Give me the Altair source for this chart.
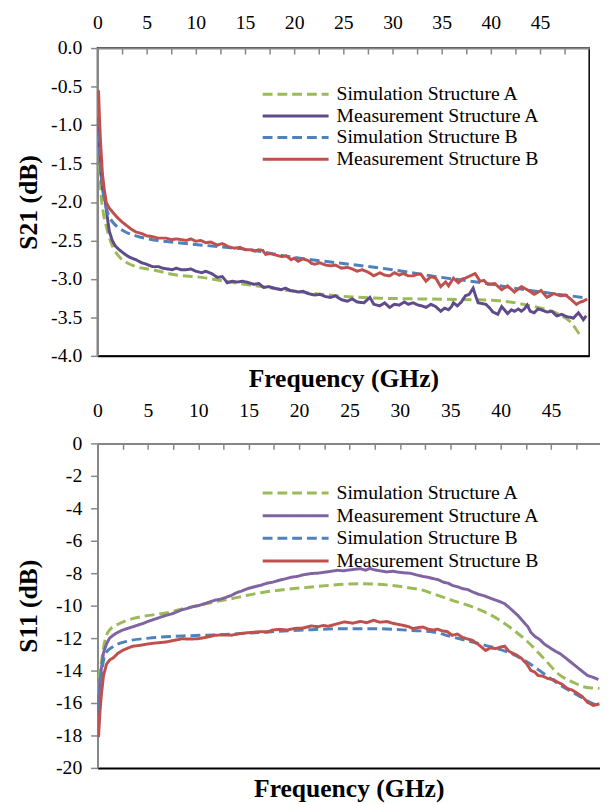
import altair as alt
import pandas as pd

FONT = "Liberation Serif"
GRAY = "#868686"

SERIES = ["Simulation Structure A", "Measurement Structure A",
          "Simulation Structure B", "Measurement Structure B"]
COLORS_TOP = ["#9BBB59", "#5F4B8B", "#4F81BD", "#C0504D"]
COLORS_BOT = ["#9BBB59", "#8064A2", "#4F81BD", "#C0504D"]
DASHES = [[10, 5], [1, 0], [10, 5], [1, 0]]

X_TICKS = [0, 2.5, 5, 7.5, 10, 12.5, 15, 17.5, 20, 22.5, 25, 27.5, 30, 32.5,
           35, 37.5, 40, 42.5, 45, 47.5]
S21_TICKS = [-4.0, -3.5, -3.0, -2.5, -2.0, -1.5, -1.0, -0.5, 0.0]
S11_TICKS = [-20, -18, -16, -14, -12, -10, -8, -6, -4, -2, 0]

# ---------------- S21 (top) ----------------
S21_SIM_A = [(0.05, -0.95), (0.2, -1.5), (0.4, -1.95), (0.6, -2.15), (0.9, -2.32),
             (1.3, -2.5), (1.7, -2.62), (2.2, -2.71), (3.0, -2.79), (3.9, -2.84),
             (5.6, -2.88), (7.6, -2.94), (10.6, -2.98), (13.9, -3.05), (16.6, -3.1),
             (18.7, -3.14), (22.1, -3.19), (25.4, -3.23), (28.7, -3.25), (33.0, -3.26),
             (38.0, -3.27), (40.5, -3.28), (43.7, -3.34), (45.7, -3.4), (47.1, -3.47),
             (48.1, -3.56), (48.7, -3.66), (49.1, -3.74)]

S21_MEAS_A = [(0.05, -0.9), (0.2, -1.3), (0.4, -1.7), (0.6, -1.9), (0.8, -2.0), (1.0, -2.2),
              (1.2, -2.38), (1.5, -2.5), (1.8, -2.57), (2.2, -2.62), (2.8, -2.68), (3.3, -2.72),
              (3.9, -2.75), (4.5, -2.79), (5.0, -2.81), (5.6, -2.84), (6.2, -2.84), (6.6, -2.86),
              (7.1, -2.87), (7.6, -2.88), (8.0, -2.86), (8.5, -2.88), (9.0, -2.88), (9.5, -2.87),
              (10.0, -2.9), (10.6, -2.92), (11.0, -2.9), (11.6, -2.93), (12.2, -2.98), (12.7, -2.97),
              (13.2, -3.05), (13.7, -3.03), (14.2, -3.04), (14.8, -3.03), (15.4, -3.05), (15.9, -3.07),
              (16.4, -3.06), (16.9, -3.11), (17.4, -3.1), (18.0, -3.12), (18.7, -3.14), (19.1, -3.12),
              (19.6, -3.15), (20.1, -3.16), (20.4, -3.17), (20.9, -3.16), (21.4, -3.19), (22.1, -3.21),
              (22.6, -3.2), (23.2, -3.23), (23.7, -3.24), (24.2, -3.22), (24.8, -3.27), (25.4, -3.29),
              (25.9, -3.26), (26.4, -3.3), (27.1, -3.31), (27.7, -3.24), (28.1, -3.33), (28.7, -3.35),
              (29.2, -3.31), (29.7, -3.37), (30.2, -3.33), (30.7, -3.34), (31.2, -3.3), (31.6, -3.33),
              (32.1, -3.31), (32.6, -3.34), (33.0, -3.35), (33.4, -3.37), (33.9, -3.33), (34.4, -3.36),
              (34.9, -3.42), (35.3, -3.38), (35.7, -3.4), (36.0, -3.36), (36.2, -3.31), (36.6, -3.35),
              (37.0, -3.3), (37.4, -3.22), (37.8, -3.2), (38.2, -3.12), (38.4, -3.2), (38.7, -3.31),
              (39.1, -3.32), (39.5, -3.33), (39.9, -3.38), (40.2, -3.43), (40.7, -3.46), (41.1, -3.36),
              (41.5, -3.42), (41.7, -3.45), (42.1, -3.4), (42.4, -3.42), (42.8, -3.39), (43.1, -3.42),
              (43.4, -3.39), (43.7, -3.34), (44.0, -3.42), (44.4, -3.44), (44.8, -3.39), (45.1, -3.4),
              (45.7, -3.43), (46.2, -3.42), (46.7, -3.48), (47.2, -3.46), (47.7, -3.49), (48.1, -3.5),
              (48.4, -3.51), (48.9, -3.44), (49.2, -3.49), (49.4, -3.53), (49.7, -3.48)]

S21_SIM_B = [(0.05, -0.9), (0.2, -1.3), (0.4, -1.65), (0.6, -1.88), (0.9, -2.08), (1.2, -2.19),
             (1.6, -2.27), (2.2, -2.34), (3.0, -2.4), (3.9, -2.44), (5.6, -2.49), (7.5, -2.52),
             (9.0, -2.54), (12.2, -2.58), (15.4, -2.62), (20.0, -2.72), (25.0, -2.8), (30.0, -2.88),
             (35.0, -2.98), (39.1, -3.05), (42.4, -3.12), (45.7, -3.18), (48.1, -3.22), (49.8, -3.25)]

S21_MEAS_B = [(0.1, -0.55), (0.2, -0.9), (0.3, -1.2), (0.5, -1.63), (0.7, -1.85), (0.9, -2.01),
              (1.2, -2.08), (1.6, -2.14), (2.0, -2.2), (2.5, -2.26), (2.9, -2.3), (3.4, -2.35),
              (3.9, -2.39), (4.5, -2.41), (5.0, -2.44), (5.6, -2.45), (6.2, -2.47), (7.0, -2.47),
              (7.5, -2.49), (8.0, -2.48), (8.6, -2.49), (9.0, -2.5), (9.5, -2.48), (10.0, -2.51),
              (10.5, -2.5), (11.0, -2.53), (11.5, -2.52), (12.2, -2.56), (12.7, -2.54), (13.3, -2.58),
              (13.9, -2.6), (14.5, -2.59), (15.0, -2.62), (15.6, -2.62), (16.0, -2.64), (16.4, -2.62),
              (16.8, -2.63), (17.1, -2.68), (17.6, -2.67), (18.1, -2.69), (18.7, -2.71), (19.2, -2.7),
              (19.7, -2.75), (20.0, -2.73), (20.4, -2.77), (20.9, -2.74), (21.4, -2.76), (21.8, -2.8),
              (22.1, -2.81), (22.6, -2.79), (23.2, -2.82), (23.7, -2.83), (24.2, -2.82), (24.8, -2.86),
              (25.4, -2.85), (25.9, -2.87), (26.4, -2.9), (26.9, -2.88), (27.5, -2.91), (28.1, -2.96),
              (28.7, -2.92), (29.2, -2.95), (29.7, -2.96), (30.2, -2.92), (30.7, -2.95), (31.1, -2.93),
              (31.6, -2.96), (32.1, -2.96), (32.5, -2.94), (32.9, -2.94), (33.4, -3.03), (33.9, -2.97),
              (34.4, -2.99), (34.9, -3.1), (35.4, -3.04), (35.7, -3.09), (36.2, -2.99), (36.7, -3.05),
              (37.1, -3.0), (37.4, -2.99), (37.9, -2.96), (38.4, -2.93), (38.9, -3.03), (39.3, -3.02),
              (39.7, -3.07), (40.4, -3.06), (41.1, -3.14), (41.7, -3.09), (42.4, -3.17), (43.1, -3.1),
              (43.7, -3.14), (44.4, -3.2), (45.1, -3.15), (45.7, -3.24), (46.4, -3.19), (47.1, -3.22),
              (47.6, -3.21), (48.1, -3.26), (48.7, -3.33), (49.1, -3.3), (49.4, -3.29), (49.8, -3.26)]

# ---------------- S11 (bottom) ----------------
S11_SIM_A = [(0.02, -15.4), (0.2, -14.2), (0.4, -13.4), (0.75, -12.1), (1.2, -11.5), (2.2, -11.1),
             (3.5, -10.8), (5.1, -10.6), (6.8, -10.45), (8.4, -10.2), (10.0, -10.0), (11.6, -9.77),
             (13.3, -9.57), (14.9, -9.36), (16.2, -9.2), (18.0, -9.05), (21.2, -8.85), (24.5, -8.68),
             (26.1, -8.65), (28.7, -8.72), (31.0, -8.91), (32.3, -9.05), (33.3, -9.26), (35.2, -9.67),
             (37.2, -10.08), (39.1, -10.6), (41.1, -11.42), (42.7, -12.24), (44.3, -13.27),
             (45.9, -14.3), (47.3, -14.75), (48.2, -15.0), (49.2, -15.08), (49.8, -15.1)]

S11_MEAS_A = [(0.05, -16.8), (0.2, -15.0), (0.4, -13.8), (0.6, -12.9), (0.9, -12.35), (1.2, -12.0),
              (1.6, -11.8), (2.0, -11.65), (2.5, -11.5), (3.0, -11.4), (3.5, -11.3), (4.0, -11.2),
              (4.5, -11.1), (5.1, -10.95), (5.6, -10.85), (6.2, -10.72), (6.8, -10.6), (7.4, -10.5),
              (8.0, -10.35), (8.4, -10.25), (9.0, -10.15), (9.5, -10.05), (10.0, -10.0), (10.5, -9.9),
              (11.0, -9.8), (11.6, -9.67), (12.2, -9.6), (12.7, -9.5), (13.3, -9.36), (13.8, -9.2),
              (14.3, -9.1), (14.9, -8.95), (15.5, -8.85), (16.2, -8.74), (16.8, -8.62), (17.4, -8.55),
              (18.0, -8.44), (18.6, -8.35), (19.2, -8.25), (19.8, -8.2), (20.4, -8.1), (21.2, -8.02),
              (21.8, -8.0), (22.4, -7.95), (23.0, -7.9), (23.8, -7.82), (24.4, -7.85), (25.0, -7.8),
              (25.6, -7.75), (26.1, -7.72), (26.6, -7.82), (27.0, -7.7), (27.4, -7.78), (28.0, -7.85),
              (28.7, -7.92), (29.3, -7.88), (30.0, -7.95), (30.5, -7.98), (31.0, -8.0), (31.6, -8.1),
              (32.3, -8.2), (32.8, -8.25), (33.3, -8.33), (33.8, -8.4), (34.3, -8.55), (34.8, -8.62),
              (35.2, -8.75), (35.8, -8.85), (36.2, -8.95), (36.7, -9.0), (37.2, -9.15), (37.8, -9.3),
              (38.4, -9.4), (39.1, -9.57), (39.7, -9.7), (40.4, -9.88), (41.0, -10.2), (41.7, -10.6),
              (42.2, -10.95), (42.7, -11.3), (43.0, -11.65), (43.4, -11.9), (43.9, -12.1), (44.3, -12.35),
              (44.9, -12.6), (45.4, -12.8), (45.9, -12.96), (46.5, -13.25), (47.0, -13.5), (47.6, -13.8),
              (48.1, -14.05), (48.6, -14.3), (49.1, -14.4), (49.7, -14.55)]

S11_SIM_B = [(0.05, -16.5), (0.4, -14.2), (0.75, -13.0), (1.6, -12.5), (2.9, -12.2), (5.1, -12.0),
             (8.4, -11.87), (11.6, -11.8), (16.2, -11.65), (18.0, -11.58), (21.2, -11.48),
             (24.5, -11.42), (27.7, -11.42), (31.0, -11.52), (33.3, -11.62), (35.2, -11.93),
             (37.2, -12.24), (39.1, -12.55), (41.1, -12.96), (42.7, -13.5), (44.3, -14.2),
             (45.9, -14.9), (47.6, -15.5), (49.2, -16.05), (49.8, -16.2)]

S11_MEAS_B = [(0.1, -18.1), (0.25, -16.5), (0.4, -15.4), (0.6, -14.3), (0.9, -13.6), (1.2, -13.35),
              (1.6, -13.2), (2.0, -12.95), (2.5, -12.75), (3.0, -12.62), (3.5, -12.5), (4.2, -12.45),
              (5.1, -12.35), (5.8, -12.3), (6.8, -12.24), (7.5, -12.15), (8.4, -12.04), (9.0, -12.06),
              (10.0, -12.04), (10.8, -11.95), (11.6, -11.83), (12.4, -11.8), (13.3, -11.82), (14.1, -11.72),
              (14.9, -11.67), (15.6, -11.63), (16.2, -11.6), (16.8, -11.62), (17.4, -11.5), (18.0, -11.46),
              (18.8, -11.5), (19.6, -11.4), (20.4, -11.38), (21.2, -11.25), (21.9, -11.3), (22.4, -11.22),
              (22.9, -11.27), (23.6, -11.15), (24.5, -11.0), (25.3, -11.08), (26.1, -10.97), (26.7, -11.05),
              (27.4, -10.9), (28.0, -11.02), (28.7, -10.98), (29.4, -11.1), (30.3, -11.21), (30.9, -11.3),
              (31.3, -11.42), (31.8, -11.35), (32.3, -11.32), (32.8, -11.45), (33.3, -11.5), (33.7, -11.45),
              (34.2, -11.55), (34.7, -11.6), (35.2, -11.83), (35.7, -11.75), (36.2, -11.95), (36.7, -12.05),
              (37.2, -12.14), (37.8, -12.4), (38.5, -12.76), (39.0, -12.6), (39.5, -12.65), (40.0, -12.55),
              (40.4, -12.5), (40.8, -12.8), (41.1, -12.9), (41.6, -13.05), (42.1, -13.27), (42.6, -13.6),
              (43.0, -14.0), (43.4, -14.1), (43.7, -14.3), (44.2, -14.35), (44.7, -14.5), (45.2, -14.55),
              (45.6, -14.7), (46.1, -14.85), (46.6, -15.1), (47.1, -15.2), (47.6, -15.4), (48.1, -15.6),
              (48.6, -15.95), (49.2, -16.15), (49.8, -16.05)]


def build(series_pairs, colors, y_ticks, y_fmt, y_title, width, height, xmax,
          legend_y, clip_h, top_pad, title_pad, view):
    x_scale = alt.Scale(domain=[0, xmax], nice=False, zero=False)
    y_scale = alt.Scale(domain=[min(y_ticks), 0], nice=False)
    color_scale = alt.Scale(domain=SERIES, range=colors)
    dash_scale = alt.Scale(domain=SERIES, range=DASHES)
    legend = alt.Legend(orient="none", legendX=166.5, legendY=legend_y, title=None,
                        symbolType="stroke", symbolSize=4489, symbolStrokeWidth=3,
                        labelFont=FONT, labelFontSize=20, labelColor="black",
                        labelLimit=400, labelOffset=6.5, padding=0, rowPadding=0,
                        clipHeight=clip_h, direction="vertical")
    top_axis = alt.Axis(orient="top", values=X_TICKS,
                        labelExpr="datum.value % 5 == 0 ? format(datum.value, 'd') : ''",
                        ticks=False, tickSize=0, domainColor=GRAY, domainWidth=2,
                        labelPadding=top_pad, labelFont=FONT, labelFontSize=20,
                        labelColor="black", labelFlush=False, labelOverlap=False,
                        grid=False, title=None)
    tick_axis = alt.Axis(orient="bottom", offset=-height, values=X_TICKS, labels=False,
                         domain=False, ticks=True, tickSize=6, tickColor=GRAY, tickWidth=1.5,
                         grid=False, title=None)
    bottom_axis = alt.Axis(orient="bottom", labels=False, ticks=False, domainColor="black",
                           domainWidth=2, grid=False, title="Frequency (GHz)",
                           titleFont=FONT, titleFontSize=26, titleFontWeight="bold",
                           titleColor="black", titlePadding=title_pad)
    y_axis = alt.Axis(values=y_ticks, format=y_fmt,
                      labelExpr="replace(datum.label, '\u2212', '-')",
                      domainColor=GRAY, domainWidth=2, tickColor=GRAY, tickWidth=1.5,
                      tickSize=7, labelPadding=9, labelFont=FONT, labelFontSize=20,
                      labelColor="black", grid=False, title=y_title, titleFont=FONT,
                      titleFontSize=26, titleFontWeight="bold", titleColor="black",
                      titleX=-70, titleBaseline="middle")
    x_axes = [top_axis, tick_axis, bottom_axis, None]
    layers = []
    for i, (name, pairs) in enumerate(zip(SERIES, series_pairs)):
        df = pd.DataFrame(pairs, columns=["f", "v"])
        df["s"] = name
        interp = "monotone" if i % 2 == 0 else "linear"
        layers.append(
            alt.Chart(df).mark_line(strokeWidth=3, interpolate=interp, clip=True).encode(
                x=alt.X("f:Q", scale=x_scale, axis=x_axes[i]),
                y=alt.Y("v:Q", scale=y_scale, axis=y_axis),
                color=alt.Color("s:N", scale=color_scale, legend=legend),
                strokeDash=alt.StrokeDash("s:N", scale=dash_scale, legend=legend),
            )
        )
    return alt.layer(*layers).resolve_axis(x="independent").properties(
        width=width, height=height, view=view)


top = build([S21_SIM_A, S21_MEAS_A, S21_SIM_B, S21_MEAS_B], COLORS_TOP, S21_TICKS, ".1f",
            "S21 (dB)", 500, 313, 50, 36, 22, 16, 10,
            alt.ViewBackground(stroke="black", strokeWidth=1.5))
bottom = build([S11_SIM_A, S11_MEAS_A, S11_SIM_B, S11_MEAS_B], COLORS_BOT, S11_TICKS, "d",
               "S11 (dB)", 511, 330, 511 / 10.25, 39, 23, 23, 8,
               alt.ViewBackground(stroke="transparent", strokeWidth=0))

chart = alt.vconcat(top, bottom, spacing=9).resolve_scale(
    color="independent", strokeDash="independent", x="independent", y="independent"
).resolve_legend(color="independent", strokeDash="independent").properties(
    padding={"left": 7, "top": -3, "right": 0, "bottom": 0}
).configure(font=FONT)

chart.save("out.html", embed_options={"renderer": "svg", "actions": False})
